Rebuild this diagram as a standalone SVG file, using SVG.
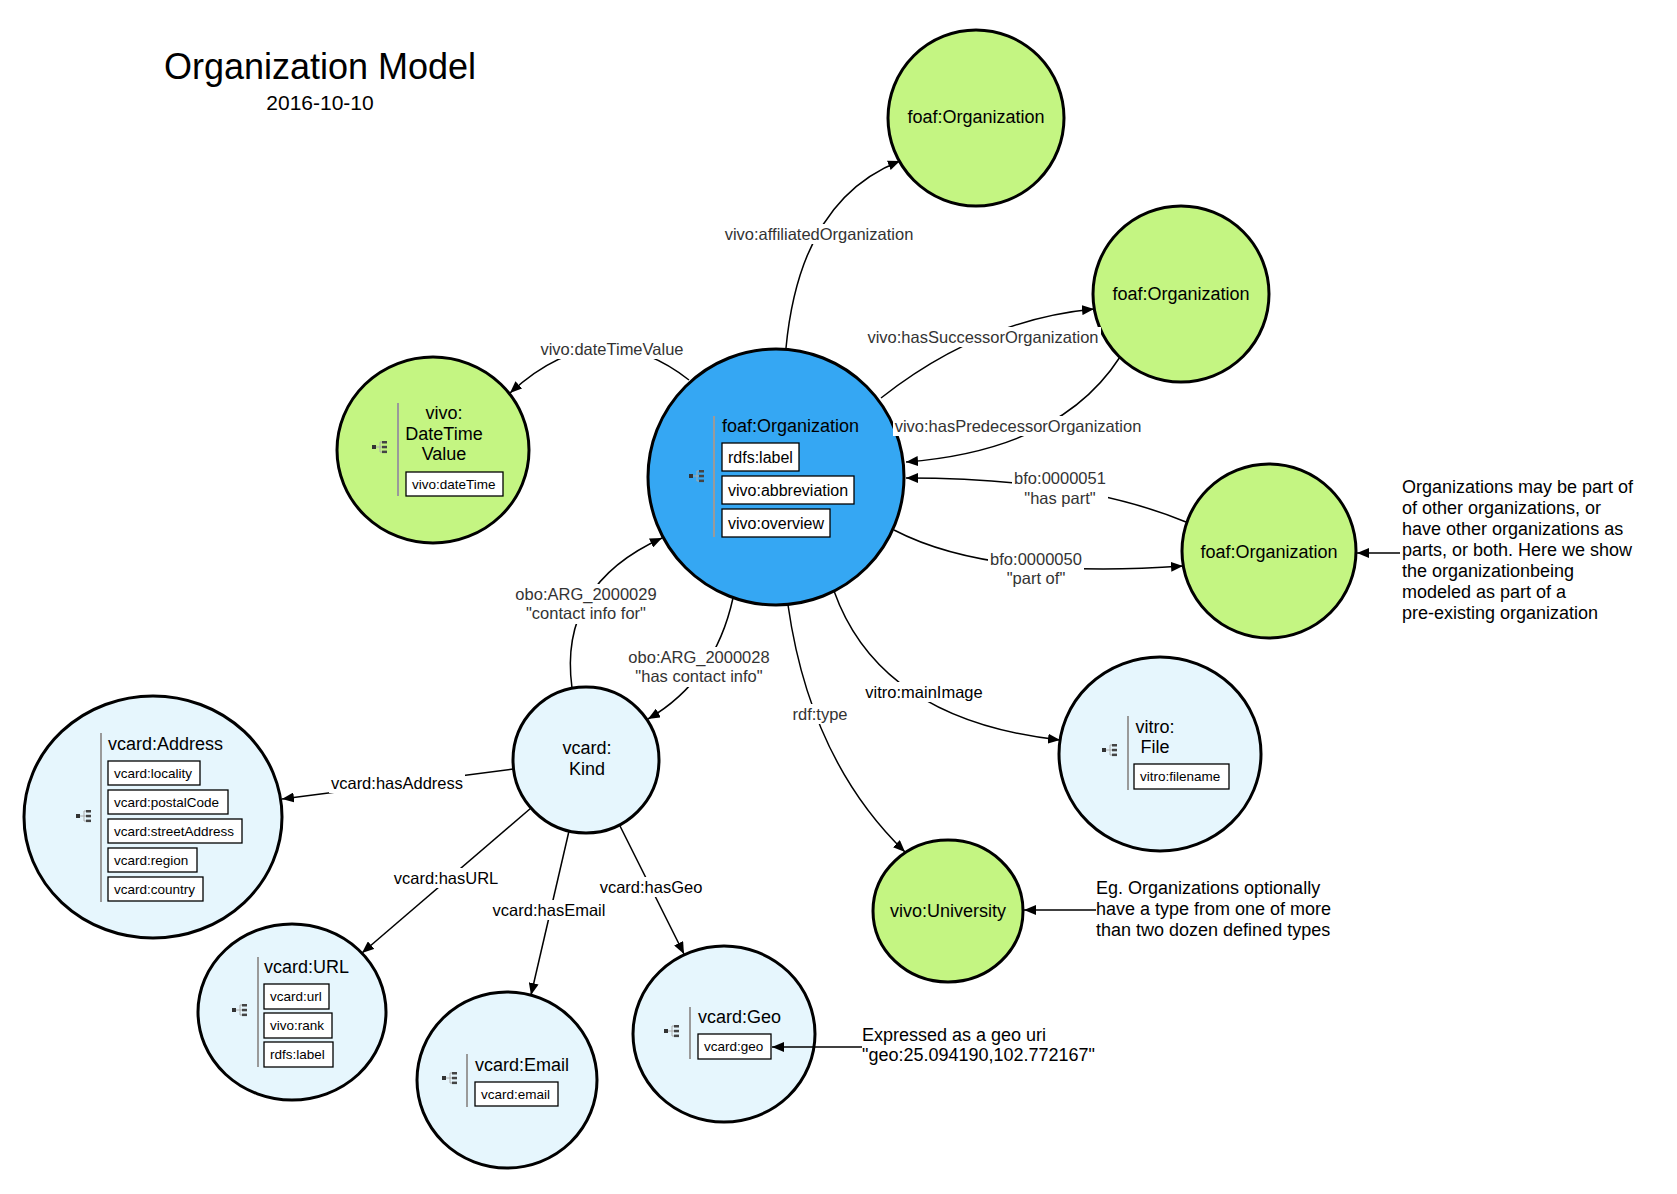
<svg xmlns="http://www.w3.org/2000/svg" xmlns:xlink="http://www.w3.org/1999/xlink" width="1677" height="1194" viewBox="0 0 1677 1194">
<style>
text{font-family:"Liberation Sans",Arial,Helvetica,sans-serif;fill:#000}
.n{stroke:#000;stroke-width:3}
.g{fill:#C4F582}
.b{fill:#35A7F3}
.lt{fill:#E6F6FD}
.t{font-size:18px}
.bx{fill:#fff;stroke:#000;stroke-width:1.3}
.bt{font-size:13.5px}
.bt16{font-size:16px}
.bar{stroke:#9a9a9a;stroke-width:2}
.c{fill:none;stroke:#000;stroke-width:1.5}
.lb{fill:#fff}
.el{font-size:16.5px;fill:#333}
.ek{font-size:16.5px;fill:#000}
.mid{text-anchor:middle}
</style>
<defs>
<marker id="ah" viewBox="0 0 12 10" refX="12" refY="5" markerWidth="12" markerHeight="10" markerUnits="userSpaceOnUse" orient="auto">
<path d="M0,0 L12,5 L0,10 z" fill="#000"/>
</marker>
<g id="ico">
<rect x="0" y="-2" width="4" height="4" fill="#333"/>
<path d="M4,0 H8 M8,-5 V5 M8,-5 H10 M8,0 H10 M8,5 H10" stroke="#aaa" stroke-width="1" fill="none"/>
<rect x="10" y="-6" width="5" height="2.5" fill="#444"/>
<rect x="10" y="-1.2" width="5" height="2.5" fill="#444"/>
<rect x="10" y="3.6" width="5" height="2.5" fill="#444"/>
</g>
</defs>
<rect width="1677" height="1194" fill="#fff"/>

<g id="title">
<text x="320" y="79" class="mid" font-size="36">Organization Model</text>
<text x="320" y="110" class="mid" font-size="21">2016-10-10</text>
</g>

<g id="org-top">
<circle cx="976" cy="118" r="88" class="n g"/>
<text x="976" y="123" class="t mid">foaf:Organization</text>
</g>

<g id="org-successor">
<circle cx="1181" cy="294" r="88" class="n g"/>
<text x="1181" y="300" class="t mid">foaf:Organization</text>
</g>

<g id="org-parent">
<circle cx="1269" cy="551" r="87" class="n g"/>
<text x="1269" y="558" class="t mid">foaf:Organization</text>
</g>

<g id="datetime">
<ellipse cx="433" cy="450" rx="96" ry="93" class="n g"/>
<use xlink:href="#ico" href="#ico" x="372" y="447"/>
<line x1="398" y1="403" x2="398" y2="496" class="bar"/>
<text x="444" y="419" class="t mid">vivo:</text>
<text x="444" y="440" class="t mid">DateTime</text>
<text x="444" y="460" class="t mid">Value</text>
<rect x="406" y="472" width="97" height="24" class="bx"/>
<text x="412" y="489" class="bt">vivo:dateTime</text>
</g>

<g id="org-central">
<circle cx="776" cy="477" r="128" class="n b"/>
<use xlink:href="#ico" href="#ico" x="689" y="476"/>
<line x1="714" y1="416" x2="714" y2="537" class="bar"/>
<text x="722" y="432" class="t">foaf:Organization</text>
<rect x="722" y="443" width="77" height="28" class="bx"/>
<text x="728" y="463" class="bt16">rdfs:label</text>
<rect x="722" y="476" width="132" height="28" class="bx"/>
<text x="728" y="496" class="bt16">vivo:abbreviation</text>
<rect x="722" y="509" width="108" height="28" class="bx"/>
<text x="728" y="529" class="bt16">vivo:overview</text>
</g>

<g id="vcard-kind">
<circle cx="586" cy="760" r="73" class="n lt"/>
<text x="587" y="754" class="t mid">vcard:</text>
<text x="587" y="775" class="t mid">Kind</text>
</g>

<g id="vcard-address">
<ellipse cx="153" cy="817" rx="129" ry="121" class="n lt"/>
<use xlink:href="#ico" href="#ico" x="76" y="816"/>
<line x1="101" y1="733" x2="101" y2="902" class="bar"/>
<text x="108" y="750" class="t">vcard:Address</text>
<rect x="108" y="761" width="92" height="24" class="bx"/>
<text x="114" y="778" class="bt">vcard:locality</text>
<rect x="108" y="790" width="120" height="24" class="bx"/>
<text x="114" y="807" class="bt">vcard:postalCode</text>
<rect x="108" y="819" width="134" height="24" class="bx"/>
<text x="114" y="836" class="bt">vcard:streetAddress</text>
<rect x="108" y="848" width="89" height="24" class="bx"/>
<text x="114" y="865" class="bt">vcard:region</text>
<rect x="108" y="877" width="95" height="24" class="bx"/>
<text x="114" y="894" class="bt">vcard:country</text>
</g>

<g id="vcard-url">
<ellipse cx="292" cy="1012" rx="94" ry="88" class="n lt"/>
<use xlink:href="#ico" href="#ico" x="232" y="1010"/>
<line x1="258" y1="957" x2="258" y2="1067" class="bar"/>
<text x="264" y="973" class="t">vcard:URL</text>
<rect x="264" y="984" width="65" height="25" class="bx"/>
<text x="270" y="1001" class="bt">vcard:url</text>
<rect x="264" y="1013" width="68" height="25" class="bx"/>
<text x="270" y="1030" class="bt">vivo:rank</text>
<rect x="264" y="1042" width="69" height="25" class="bx"/>
<text x="270" y="1059" class="bt">rdfs:label</text>
</g>

<g id="vcard-email">
<ellipse cx="507" cy="1080" rx="90" ry="88" class="n lt"/>
<use xlink:href="#ico" href="#ico" x="442" y="1078"/>
<line x1="467" y1="1054" x2="467" y2="1107" class="bar"/>
<text x="475" y="1071" class="t">vcard:Email</text>
<rect x="475" y="1082" width="83" height="24" class="bx"/>
<text x="481" y="1099" class="bt">vcard:email</text>
</g>

<g id="vcard-geo">
<ellipse cx="724" cy="1034" rx="91" ry="88" class="n lt"/>
<use xlink:href="#ico" href="#ico" x="664" y="1031"/>
<line x1="690" y1="1007" x2="690" y2="1059" class="bar"/>
<text x="698" y="1023" class="t">vcard:Geo</text>
<rect x="698" y="1034" width="73" height="25" class="bx"/>
<text x="704" y="1051" class="bt">vcard:geo</text>
</g>

<g id="vivo-university">
<ellipse cx="948" cy="911" rx="75" ry="71" class="n g"/>
<text x="948" y="917" class="t mid">vivo:University</text>
</g>

<g id="vitro-file">
<ellipse cx="1160" cy="754" rx="101" ry="97" class="n lt"/>
<use xlink:href="#ico" href="#ico" x="1102" y="750"/>
<line x1="1128" y1="716" x2="1128" y2="790" class="bar"/>
<text x="1155" y="733" class="t mid">vitro:</text>
<text x="1155" y="753" class="t mid">File</text>
<rect x="1134" y="764" width="95" height="25" class="bx"/>
<text x="1140" y="781" class="bt">vitro:filename</text>
</g>

<g id="notes">
<text class="t">
<tspan x="1402" y="493">Organizations may be part of</tspan>
<tspan x="1402" y="514">of other organizations, or</tspan>
<tspan x="1402" y="535">have other organizations as</tspan>
<tspan x="1402" y="556">parts, or both. Here we show</tspan>
<tspan x="1402" y="577">the organizationbeing</tspan>
<tspan x="1402" y="598">modeled as part of a</tspan>
<tspan x="1402" y="619">pre-existing organization</tspan>
</text>
<text class="t">
<tspan x="1096" y="894">Eg. Organizations optionally</tspan>
<tspan x="1096" y="915">have a type from one of more</tspan>
<tspan x="1096" y="936">than two dozen defined types</tspan>
</text>
<text class="t">
<tspan x="862" y="1041">Expressed as a geo uri</tspan>
<tspan x="862" y="1061">"geo:25.094190,102.772167"</tspan>
</text>
</g>

<g id="connectors">
<path d="M786,348 Q800,200 900,161" class="c" marker-end="url(#ah)"/>
<path d="M881,398 Q980,320 1094,309" class="c" marker-end="url(#ah)"/>
<path d="M1120,357 Q1060,450 906,462" class="c" marker-end="url(#ah)"/>
<path d="M1186,522 Q1080,478 906,478" class="c" marker-end="url(#ah)"/>
<path d="M894,530 Q990,580 1183,566" class="c" marker-end="url(#ah)"/>
<path d="M689,380 Q600,310 510,393" class="c" marker-end="url(#ah)"/>
<path d="M572,688 Q558,585 662,538" class="c" marker-end="url(#ah)"/>
<path d="M733,598 Q715,680 648,719" class="c" marker-end="url(#ah)"/>
<path d="M788,605 Q810,760 905,852" class="c" marker-end="url(#ah)"/>
<path d="M834,591 Q880,720 1060,740" class="c" marker-end="url(#ah)"/>
<path d="M513,769 L282,799" class="c" marker-end="url(#ah)"/>
<path d="M531,808 L362,953" class="c" marker-end="url(#ah)"/>
<path d="M569,831 L531,995" class="c" marker-end="url(#ah)"/>
<path d="M620,826 L684,954" class="c" marker-end="url(#ah)"/>
<path d="M1400,553 L1357,553" class="c" marker-end="url(#ah)"/>
<path d="M1096,910 L1024,910" class="c" marker-end="url(#ah)"/>
<path d="M862,1047 L772,1047" class="c" marker-end="url(#ah)"/>

<rect x="723" y="224" width="192" height="20" class="lb"/>
<text x="819" y="240" class="el mid">vivo:affiliatedOrganization</text>
<rect x="866" y="327" width="235" height="20" class="lb"/>
<text x="983" y="343" class="el mid">vivo:hasSuccessorOrganization</text>
<rect x="893" y="416" width="251" height="20" class="lb"/>
<text x="1018" y="432" class="el mid">vivo:hasPredecessorOrganization</text>
<rect x="1012" y="468" width="96" height="41" class="lb"/>
<text x="1060" y="484" class="el mid">bfo:0000051</text>
<text x="1060" y="504" class="el mid">"has part"</text>
<rect x="988" y="549" width="96" height="40" class="lb"/>
<text x="1036" y="565" class="el mid">bfo:0000050</text>
<text x="1036" y="584" class="el mid">"part of"</text>
<rect x="538" y="339" width="148" height="20" class="lb"/>
<text x="612" y="355" class="el mid">vivo:dateTimeValue</text>
<rect x="514" y="584" width="144" height="40" class="lb"/>
<text x="586" y="600" class="el mid">obo:ARG_2000029</text>
<text x="586" y="619" class="el mid">"contact info for"</text>
<rect x="627" y="647" width="144" height="40" class="lb"/>
<text x="699" y="663" class="el mid">obo:ARG_2000028</text>
<text x="699" y="682" class="el mid">"has contact info"</text>
<rect x="791" y="704" width="59" height="20" class="lb"/>
<text x="820" y="720" class="el mid">rdf:type</text>
<rect x="864" y="682" width="120" height="20" class="lb"/>
<text x="924" y="698" class="ek mid">vitro:mainImage</text>
<rect x="329" y="773" width="136" height="20" class="lb"/>
<text x="397" y="789" class="ek mid">vcard:hasAddress</text>
<rect x="393" y="868" width="106" height="20" class="lb"/>
<text x="446" y="884" class="ek mid">vcard:hasURL</text>
<rect x="491" y="900" width="116" height="20" class="lb"/>
<text x="549" y="916" class="ek mid">vcard:hasEmail</text>
<rect x="598" y="877" width="106" height="20" class="lb"/>
<text x="651" y="893" class="ek mid">vcard:hasGeo</text>
</g>
</svg>
